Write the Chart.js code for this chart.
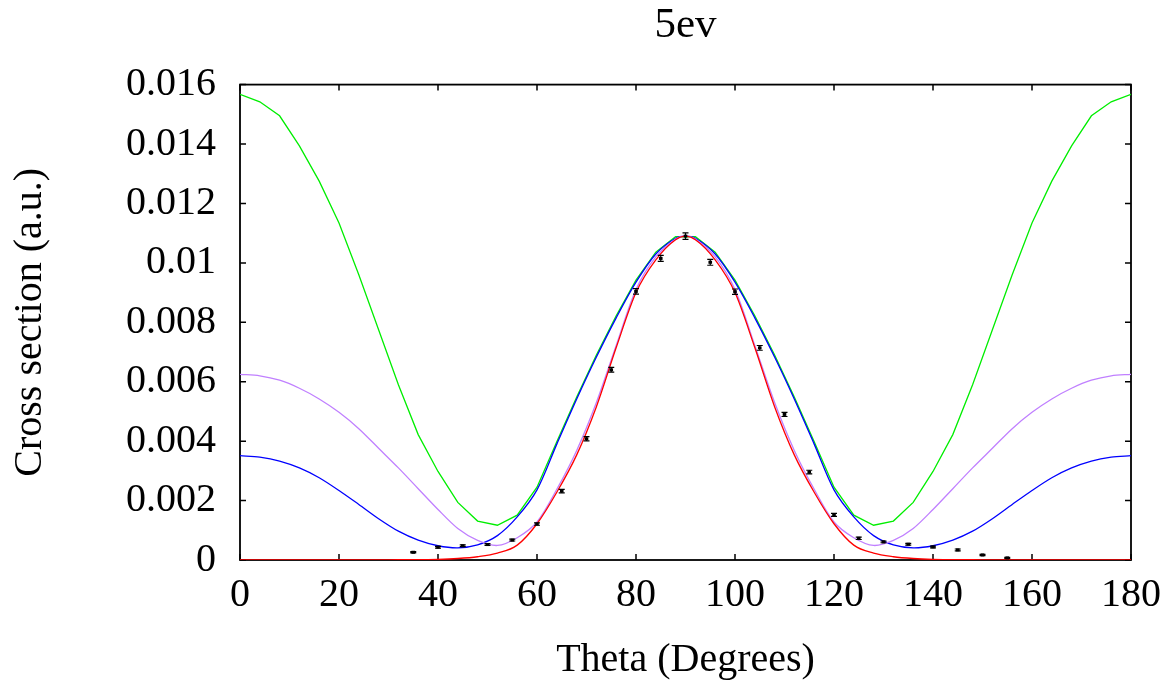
<!DOCTYPE html>
<html>
<head>
<meta charset="utf-8">
<script src="https://cdn.jsdelivr.net/npm/chart.js@4/dist/chart.umd.min.js"></script>
<style>
  html, body { margin: 0; padding: 0; background: #ffffff; }
  #c { display: block; }
</style>
</head>
<body>
<canvas id="c" width="1175" height="688"></canvas>
<script>
// ---- data ----
const thetaGreen = [0,4,8,12,16,20,24,28,32,36,40,44,48,52,56,60,64,68,72,76,80,84,88,92,96,100,104,108,112,116,120,124,128,132,136,140,144,148,152,156,160,164,168,172,176,180];
const greenValues = [0.01567,0.01542,0.01495,0.01394,0.01275,0.01134,0.00960,0.00775,0.00590,0.00422,0.00298,0.00194,0.00131,0.00117,0.00151,0.00245,0.00398,0.00548,0.00690,0.00822,0.00942,0.01036,0.01088,
                     0.01088,0.01036,0.00942,0.00822,0.00690,0.00548,0.00398,0.00245,0.00151,0.00117,0.00131,0.00194,0.00298,0.00422,0.00590,0.00775,0.00960,0.01134,0.01275,0.01394,0.01495,0.01542,0.01567];

const thetaSmooth = [0,4,8,12,16,20,24,28,32,36,40,44,48,52,56,60,64,68,72,76,80,84,88,90,92,96,100,104,108,112,116,120,124,128,132,136,140,144,148,152,156,160,164,168,172,176,180];
const blueValues = [0.00351,0.00346,0.00333,0.00310,0.00277,0.00234,0.00187,0.00139,0.00097,0.00067,0.00048,0.00041,0.00051,0.00082,0.00145,0.00236,0.00390,0.00541,0.00683,0.00815,0.00935,0.01030,0.01083,0.01090,
                    0.01083,0.01030,0.00935,0.00815,0.00683,0.00541,0.00390,0.00236,0.00145,0.00082,0.00051,0.00041,0.00048,0.00067,0.00097,0.00139,0.00187,0.00234,0.00277,0.00310,0.00333,0.00346,0.00351];
const purpleValues = [0.00625,0.00620,0.00605,0.00578,0.00542,0.00497,0.00442,0.00376,0.00310,0.00240,0.00170,0.00106,0.00066,0.00049,0.00075,0.00128,0.00238,0.00368,0.00530,0.00722,0.00910,0.01020,0.01080,0.01090,
                      0.01080,0.01020,0.00910,0.00722,0.00530,0.00368,0.00238,0.00128,0.00075,0.00049,0.00066,0.00106,0.00170,0.00240,0.00310,0.00376,0.00442,0.00497,0.00542,0.00578,0.00605,0.00620,0.00625];
const redValues = [0,0,0,0,0,0,0,0,0.00001,0.00001,0.00002,0.00005,0.00011,0.00023,0.00050,0.00122,0.00228,0.00353,0.00516,0.00715,0.00900,0.01010,0.01078,0.01090,
                   0.01078,0.01010,0.00900,0.00715,0.00516,0.00353,0.00228,0.00122,0.00050,0.00023,0.00011,0.00005,0.00002,0.00001,0.00001,0,0,0,0,0,0,0,0];

const dataTheta = [35,40,45,50,55,60,65,70,75,80,85,90,95,100,105,110,115,120,125,130,135,140,145,150,155];
const dataValues = [0.00026,0.00043,0.00048,0.00052,0.00067,0.00121,0.00232,0.00408,0.00640,0.00904,0.01015,0.01090,0.01002,0.00903,0.00714,0.00490,0.00296,0.00152,0.00073,0.00061,0.00053,0.00044,0.00034,0.00017,0.00007];
const dataErrors = [0.00002,0.00003,0.00003,0.00003,0.00003,0.00004,0.00006,0.00007,0.00008,0.00009,0.00010,0.00011,0.00010,0.00009,0.00008,0.00007,0.00006,0.00005,0.00004,0.00003,0.00003,0.00003,0.00003,0.00002,0.00002];

const xTickValues = [0,20,40,60,80,100,120,140,160,180];
const yTickLabels = ['0','0.002','0.004','0.006','0.008','0.01','0.012','0.014','0.016'];

const chartTitle = '5ev';
const xAxisTitle = 'Theta (Degrees)';
const yAxisTitle = 'Cross section (a.u.)';

// ---- build datasets ----
function pairs(xs, ys) { return xs.map((x, i) => ({ x: x, y: ys[i] })); }

const FONT = 'Liberation Serif, Times New Roman, serif';
const FS = 40;

const framePlugin = {
  id: 'frameTicks',
  beforeDatasetsDraw(chart) {
    const ctx = chart.ctx;
    const a = chart.chartArea;
    const xs = chart.scales.x, ys = chart.scales.y;
    ctx.save();
    ctx.strokeStyle = '#000';
    ctx.lineWidth = 1.5;
    const tl = 6;
    ctx.beginPath();
    xs.ticks.forEach(t => {
      const px = xs.getPixelForValue(t.value);
      ctx.moveTo(px, a.bottom); ctx.lineTo(px, a.bottom - tl);
      ctx.moveTo(px, a.top); ctx.lineTo(px, a.top + tl);
    });
    ys.ticks.forEach(t => {
      const py = ys.getPixelForValue(t.value);
      ctx.moveTo(a.left, py); ctx.lineTo(a.left + tl, py);
      ctx.moveTo(a.right, py); ctx.lineTo(a.right - tl, py);
    });
    ctx.stroke();
    ctx.lineWidth = 1.8;
    ctx.strokeRect(a.left, a.top, a.right - a.left, a.bottom - a.top);
    ctx.restore();
  }
};

const errorBarPlugin = {
  id: 'errorBars',
  afterDatasetsDraw(chart) {
    const ctx = chart.ctx;
    const xs = chart.scales.x, ys = chart.scales.y;
    ctx.save();
    ctx.strokeStyle = '#000';
    ctx.fillStyle = '#000';
    ctx.lineWidth = 1.2;
    dataTheta.forEach((t, i) => {
      const px = xs.getPixelForValue(t);
      const p0 = ys.getPixelForValue(dataValues[i]);
      const pLo = ys.getPixelForValue(dataValues[i] - dataErrors[i]);
      const pHi = ys.getPixelForValue(dataValues[i] + dataErrors[i]);
      ctx.beginPath();
      ctx.moveTo(px, pLo); ctx.lineTo(px, pHi);
      ctx.moveTo(px - 3, pLo); ctx.lineTo(px + 3, pLo);
      ctx.moveTo(px - 3, pHi); ctx.lineTo(px + 3, pHi);
      ctx.stroke();
      ctx.fillRect(px - 1.8, p0 - 1.5, 3.6, 3);
    });
    ctx.restore();
  }
};

const lineStyle = (color, tension, mode) => ({
  borderColor: color,
  backgroundColor: color,
  borderWidth: 1.3,
  pointRadius: 0,
  showLine: true,
  fill: false,
  tension: tension,
  cubicInterpolationMode: mode
});

new Chart(document.getElementById('c'), {
  type: 'scatter',
  data: {
    datasets: [
      Object.assign({ label: 'red', data: pairs(thetaSmooth, redValues) }, lineStyle('#ff0000', 0.4, 'monotone')),
      Object.assign({ label: 'purple', data: pairs(thetaSmooth, purpleValues) }, lineStyle('#c080ff', 0.3, 'default')),
      Object.assign({ label: 'blue', data: pairs(thetaSmooth, blueValues) }, lineStyle('#0000ff', 0.3, 'default')),
      Object.assign({ label: 'green', data: pairs(thetaGreen, greenValues) }, lineStyle('#00ee00', 0, 'default'))
    ]
  },
  options: {
    responsive: false,
    devicePixelRatio: 1,
    animation: false,
    layout: { padding: { left: 0, right: 44, top: 0, bottom: 0 } },
    plugins: {
      legend: { display: false },
      tooltip: { enabled: false },
      title: {
        display: true,
        fullSize: false,
        text: chartTitle,
        color: '#000',
        font: { family: FONT, size: 43, weight: 'normal' },
        padding: { top: 0, bottom: 33 }
      }
    },
    scales: {
      x: {
        type: 'linear',
        min: 0, max: 180,
        afterBuildTicks: s => { s.ticks = xTickValues.map(v => ({ value: v })); },
        ticks: { color: '#000', font: { family: FONT, size: FS }, padding: 11, maxRotation: 0,
                 callback: v => String(v) },
        grid: { display: false, drawTicks: false },
        border: { display: false },
        title: { display: true, text: xAxisTitle, color: '#000',
                 font: { family: FONT, size: FS }, padding: { top: 0, bottom: 4 } },
        afterFit: s => { s.height = 128; }
      },
      y: {
        type: 'linear',
        min: 0, max: 0.016,
        ticks: { stepSize: 0.002, color: '#000', font: { family: FONT, size: FS }, padding: 24,
                 callback: (v, i) => yTickLabels[i] },
        grid: { display: false, drawTicks: false },
        border: { display: false },
        title: { display: true, text: yAxisTitle, color: '#000',
                 font: { family: FONT, size: FS }, padding: { top: 6, bottom: 0 } },
        afterFit: s => { s.width = 240; }
      }
    }
  },
  plugins: [framePlugin, errorBarPlugin]
});
</script>
</body>
</html>
